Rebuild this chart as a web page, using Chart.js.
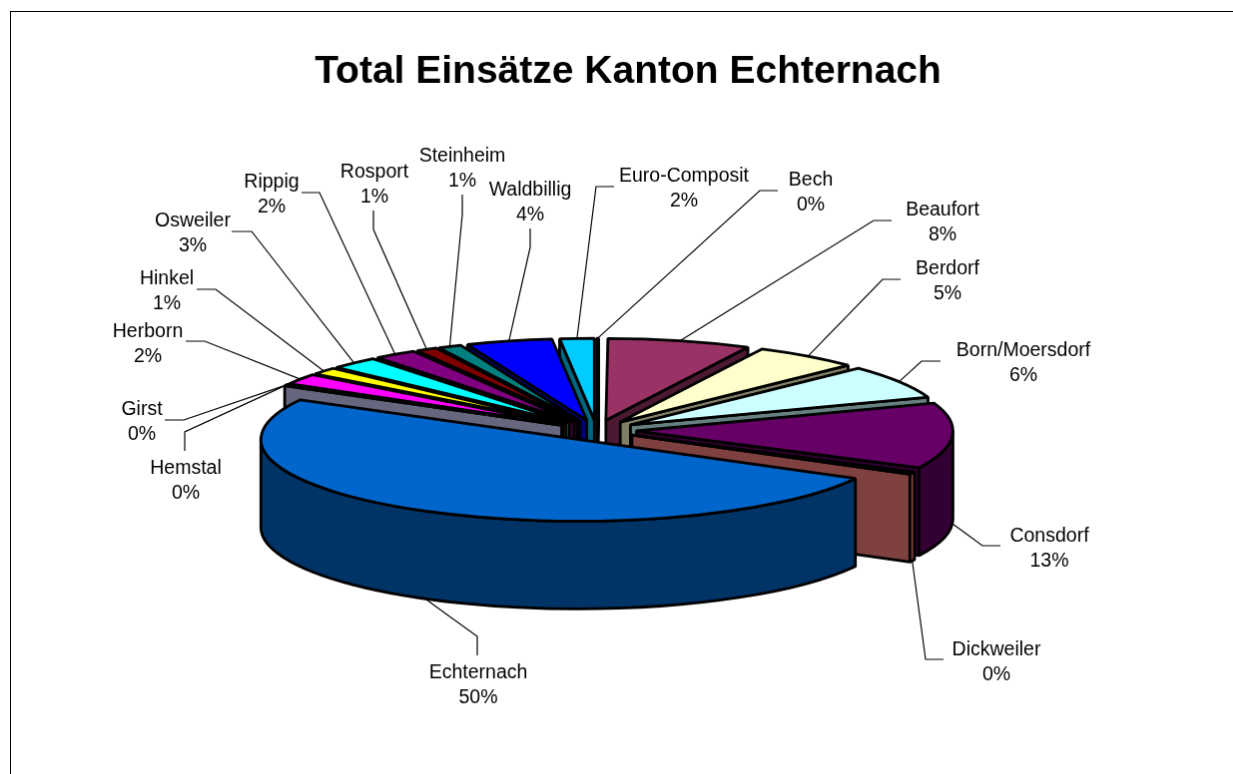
<!DOCTYPE html>
<html>
<head>
<meta charset="utf-8">
<title>Total Einsätze Kanton Echternach</title>
<script src="https://cdn.jsdelivr.net/npm/chart.js@4/dist/chart.umd.min.js"></script>
<style>
  html, body { margin: 0; padding: 0; background: #fff; overflow: hidden; height: 100%; }
  #chart { position: absolute; left: 10px; top: 11px; border: 1px solid #000; }
</style>
</head>
<body>
<canvas id="chart" width="1236" height="780"></canvas>
<script>
const titleText = "Total Einsätze Kanton Echternach";
const places = ["Bech", "Beaufort", "Berdorf", "Born/Moersdorf", "Consdorf", "Dickweiler", "Echternach", "Hemstal", "Girst",
  "Herborn", "Hinkel", "Osweiler", "Rippig", "Rosport", "Steinheim", "Waldbillig", "Euro-Composit"];
// shares in percent
const shares = [0.1, 7.3, 5.38, 6.67, 12.95, 0.5, 50.05, 0.15, 0.15, 2.1, 1.4, 2.5, 2.2, 1.1, 1.2, 4.4, 1.75];
// the printed labels
const percentLabels = ["0%", "8%", "5%", "6%", "13%", "0%", "50%", "0%", "0%", "2%", "1%", "3%", "2%", "1%", "1%", "4%", "2%"];
const colors = ["#9999FF", "#993366", "#FFFFCC", "#CCFFFF", "#660066", "#FF8080", "#0066CC", "#CCCCFF", "#000080",
  "#FF00FF", "#FFFF00", "#00FFFF", "#800080", "#800000", "#008080", "#0000FF", "#00CCFF"];

// page position of each label: text x, first line y, leader start x/y, leader elbow x/y
const labelSpots = [
  [812, 181, 779, 191, 761, 191],
  [944, 211, 893, 221, 875, 221],
  [949, 270, 902, 280, 884, 280],
  [1025, 352, 942, 362, 923, 362],
  [1051, 538, 1002, 547, 984, 547],
  [998, 652, 945, 661, 927, 661],
  [479, 675, 478, 657, 478, 638],
  [186, 470, 185, 452, 185, 433],
  [142, 411, 165, 421, 184, 421],
  [148, 333, 186, 342, 205, 342],
  [167, 280, 197, 290, 216, 290],
  [193, 222, 232, 232, 252, 232],
  [272, 183, 302, 193, 320, 193],
  [375, 173, 374, 211, 374, 230],
  [463, 157, 463, 195, 463, 215],
  [531, 191, 531, 229, 531, 248],
  [685, 177, 615, 187, 597, 187]
];

const squash = 0.2585;   // flattening of the pie
const depth = 88;        // height of the pie wall
const pieShift = -31.5;  // title stays centred, pie sits left of it
const canvasLeft = 11, canvasTop = 12;

function halfColor(hex) {
  const n = parseInt(hex.slice(1), 16);
  return `rgb(${(n >> 16) >> 1},${((n >> 8) & 255) >> 1},${(n & 255) >> 1})`;
}

function sliceGeometry(arc) {
  const p = arc.getProps(["x", "y", "startAngle", "endAngle", "outerRadius"], true);
  const mid = (p.startAngle + p.endAngle) / 2;
  const off = arc.options.offset;
  return {
    cx: p.x + pieShift + Math.cos(mid) * off,
    cy: p.y + Math.sin(mid) * off * squash,
    rx: p.outerRadius,
    ry: p.outerRadius * squash,
    start: p.startAngle,
    end: p.endAngle,
    mid: mid
  };
}

function paint(ctx, fill) {
  ctx.fillStyle = fill;
  ctx.fill();
  ctx.stroke();
}

function radialWall(ctx, g, angle, fill) {
  const ox = g.cx + g.rx * Math.cos(angle);
  const oy = g.cy + g.ry * Math.sin(angle);
  ctx.beginPath();
  ctx.moveTo(g.cx, g.cy);
  ctx.lineTo(ox, oy);
  ctx.lineTo(ox, oy + depth);
  ctx.lineTo(g.cx, g.cy + depth);
  ctx.closePath();
  paint(ctx, fill);
}

function drawSlice(ctx, g, color) {
  const side = halfColor(color);
  // only the walls that face the viewer
  if (Math.cos(g.start) < 0) radialWall(ctx, g, g.start, side);
  if (Math.cos(g.end) > 0) radialWall(ctx, g, g.end, side);

  const lo = Math.max(g.start, 0);
  const hi = Math.min(g.end, Math.PI);
  if (hi > lo) {
    ctx.beginPath();
    ctx.ellipse(g.cx, g.cy, g.rx, g.ry, 0, lo, hi);
    ctx.ellipse(g.cx, g.cy + depth, g.rx, g.ry, 0, hi, lo, true);
    ctx.closePath();
    paint(ctx, side);
  }

  ctx.beginPath();
  ctx.moveTo(g.cx, g.cy);
  ctx.ellipse(g.cx, g.cy, g.rx, g.ry, 0, g.start, g.end);
  ctx.closePath();
  paint(ctx, color);
}

const tiltedPie = {
  id: "tiltedPie",
  beforeDatasetDraw(chart, args) {
    const ctx = chart.ctx;
    const slices = args.meta.data.map((arc, i) => ({ g: sliceGeometry(arc), color: colors[i] }));
    // back slices first, front slice last
    slices.sort((a, b) => Math.sin(a.g.mid) - Math.sin(b.g.mid));
    ctx.save();
    ctx.strokeStyle = "#000";
    ctx.lineWidth = 2.8;
    ctx.lineJoin = "bevel";
    slices.forEach(s => drawSlice(ctx, s.g, s.color));
    ctx.restore();
    return false;
  },
  afterDatasetsDraw(chart) {
    const ctx = chart.ctx;
    ctx.save();
    ctx.fillStyle = "#000";
    ctx.strokeStyle = "#000";
    ctx.lineWidth = 1.2;
    ctx.font = "19.5px 'Liberation Sans', Arial, sans-serif";
    ctx.textAlign = "center";
    ctx.textBaseline = "middle";
    chart.getDatasetMeta(0).data.forEach((arc, i) => {
      const g = sliceGeometry(arc);
      const spot = labelSpots[i];
      const sin = Math.sin(g.mid);
      ctx.beginPath();
      ctx.moveTo(spot[2] - canvasLeft, spot[3] - canvasTop);
      ctx.lineTo(spot[4] - canvasLeft, spot[5] - canvasTop);
      ctx.lineTo(g.cx + g.rx * Math.cos(g.mid), g.cy + g.ry * sin + (sin > 0 ? depth : 0));
      ctx.stroke();
      ctx.fillText(places[i], spot[0] - canvasLeft, spot[1] - canvasTop);
      ctx.fillText(percentLabels[i], spot[0] - canvasLeft, spot[1] - canvasTop + 25);
    });
    ctx.restore();
  }
};

new Chart(document.getElementById("chart"), {
  type: "pie",
  data: {
    labels: places,
    datasets: [{
      data: shares,
      backgroundColor: colors,
      borderWidth: 0,
      offset: 40
    }]
  },
  options: {
    responsive: false,
    animation: false,
    radius: 317,
    events: [],
    layout: { padding: { bottom: 31 } },
    plugins: {
      legend: { display: false },
      tooltip: { enabled: false },
      title: {
        display: true,
        text: titleText,
        color: "#000",
        font: { family: "'Liberation Sans', Arial, sans-serif", size: 39, weight: "bold" },
        padding: { top: 37, bottom: 6 }
      }
    }
  },
  plugins: [tiltedPie]
});
</script>
</body>
</html>
